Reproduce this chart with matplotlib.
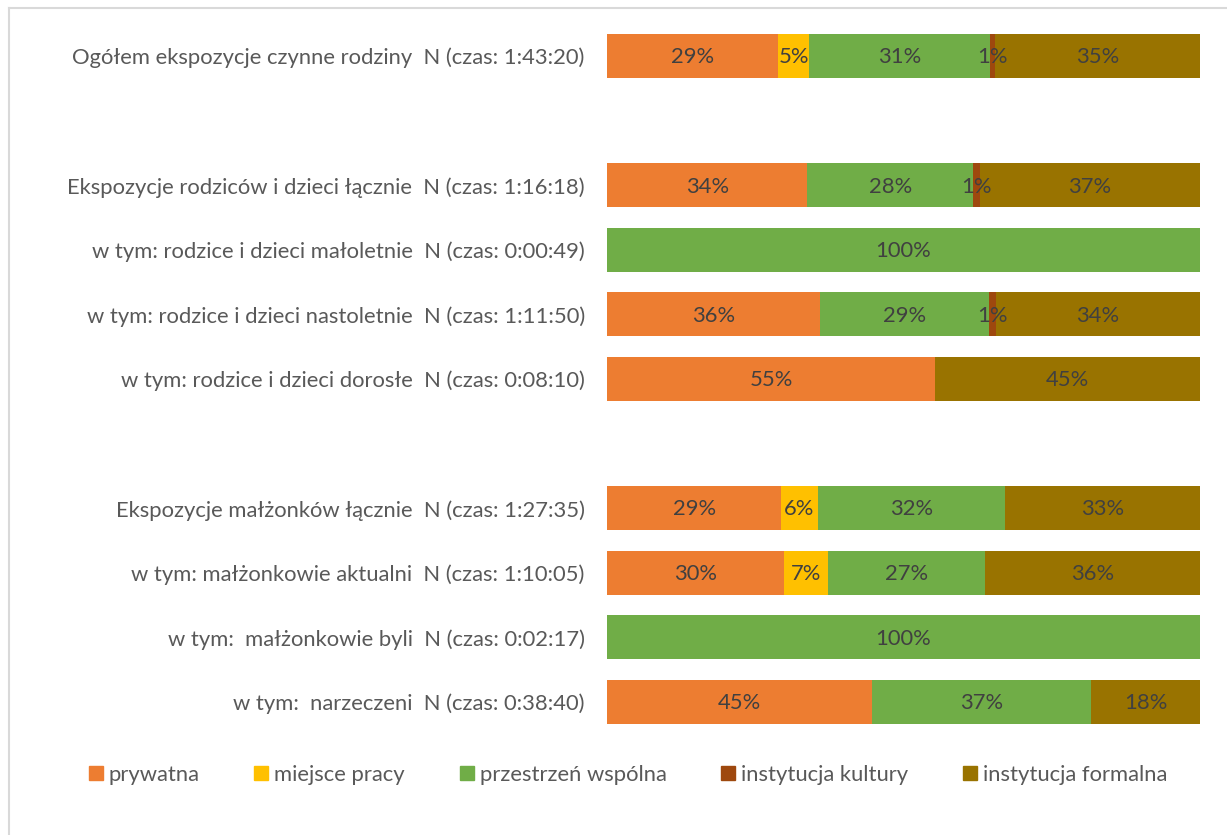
import numpy as np
import matplotlib
matplotlib.use("Agg")
import matplotlib.pyplot as plt
from matplotlib.lines import Line2D

plt.rcParams['font.family'] = ['Lato', 'DejaVu Sans']

# rows top to bottom, None marks an empty spacer row
labels = [
    "Ogółem ekspozycje czynne rodziny  N (czas: 1:43:20)",
    None,
    "Ekspozycje rodziców i dzieci łącznie  N (czas: 1:16:18)",
    "w tym: rodzice i dzieci małoletnie  N (czas: 0:00:49)",
    "w tym: rodzice i dzieci nastoletnie  N (czas: 1:11:50)",
    "w tym: rodzice i dzieci dorosłe  N (czas: 0:08:10)",
    None,
    "Ekspozycje małżonków łącznie  N (czas: 1:27:35)",
    "w tym: małżonkowie aktualni  N (czas: 1:10:05)",
    "w tym:  małżonkowie byli  N (czas: 0:02:17)",
    "w tym:  narzeczeni  N (czas: 0:38:40)",
]

series = ["prywatna", "miejsce pracy", "przestrzeń wspólna",
          "instytucja kultury", "instytucja formalna"]
colors = ["#ED7D31", "#FFC000", "#70AD47", "#9E480E", "#997300"]

prywatna      = [0.289, 0, 0.338, 0.0, 0.359, 0.553, 0, 0.294, 0.298, 0.0, 0.447]
miejsce_pracy = [0.051, 0, 0.0,   0.0, 0.0,   0.0,   0, 0.061, 0.074, 0.0, 0.0]
wspolna       = [0.306, 0, 0.280, 1.0, 0.286, 0.0,   0, 0.317, 0.266, 1.0, 0.370]
kultura       = [0.008, 0, 0.011, 0.0, 0.011, 0.0,   0, 0.0,   0.0,   0.0, 0.0]
formalna      = [0.346, 0, 0.371, 0.0, 0.344, 0.447, 0, 0.328, 0.362, 0.0, 0.183]

data = [prywatna, miejsce_pracy, wspolna, kultura, formalna]

fs = 15.8

fig = plt.figure(figsize=(12.27, 8.35), dpi=100)
ax = fig.add_axes([0.4947, 0.1206, 0.4833, 0.851])

y = np.arange(len(labels))
left = np.zeros(len(labels))
for name, vals, col in zip(series, data, colors):
    vals = np.array(vals)
    ax.barh(y, vals, left=left, height=0.68, color=col, label=name)
    for yi, l, v in zip(y, left, vals):
        if v > 0:
            ax.text(l + v / 2, yi + 0.02, f"{round(v * 100):.0f}%", ha="center", va="center",
                    fontsize=fs, color="#404040")
    left += vals

ax.set_xlim(0, 1)
ax.set_ylim(len(labels) - 0.5, -0.5)
ax.set_yticks([i for i, l in enumerate(labels) if l])
ax.set_yticklabels([l for l in labels if l], fontsize=fs, color="#595959")
ax.tick_params(axis="y", length=0, pad=16)
ax.set_xticks([])
for s in ax.spines.values():
    s.set_visible(False)

handles = [Line2D([], [], marker="s", linestyle="", markersize=10, color=c) for c in colors]
fig.legend(handles, series, loc="center", bbox_to_anchor=(0.512, 0.072), ncol=5,
           frameon=False, fontsize=fs, labelcolor="#595959",
           handlelength=0.6, handletextpad=0.3, columnspacing=2.5)

# chart area frame (top and left edges visible)
fig.add_artist(Line2D([9 / 1227, 1.0], [1 - 8 / 835] * 2, color="#D9D9D9", lw=1.5))
fig.add_artist(Line2D([9 / 1227] * 2, [0.0, 1 - 8 / 835], color="#D9D9D9", lw=1.5))

fig.savefig("out.png", dpi=100, facecolor="white")
